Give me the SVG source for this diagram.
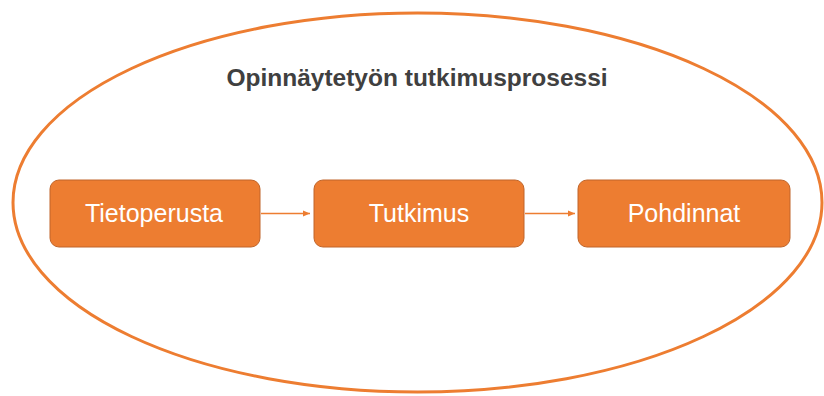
<svg xmlns="http://www.w3.org/2000/svg" width="824" height="396" viewBox="0 0 824 396">
<style>
.node rect{fill:#ED7D31;stroke:#C0652A;stroke-width:1}
.node text{fill:#FFFFFF;font-family:"Liberation Sans",Arial,sans-serif;font-size:25px;text-anchor:middle}
.conn line{stroke:#ED7D31;stroke-width:1.5;marker-end:url(#ah)}
</style>
<defs>
<marker id="ah" markerWidth="8" markerHeight="8" refX="7" refY="4" orient="auto" markerUnits="userSpaceOnUse">
<path d="M0,1 L7,4 L0,7 Z" fill="#ED7D31"/>
</marker>
</defs>
<rect width="824" height="396" fill="#FFFFFF"/>
<ellipse cx="417.5" cy="202.5" rx="404.5" ry="189.5" fill="none" stroke="#ED7D31" stroke-width="3"/>
<text x="417" y="86" font-family="'Liberation Sans',Arial,sans-serif" font-size="24.5" font-weight="bold" fill="#404040" text-anchor="middle">Opinnäytetyön tutkimusprosessi</text>
<g id="connectors" class="conn">
<line x1="261" y1="213.5" x2="310" y2="213.5"/>
<line x1="525" y1="213.5" x2="575" y2="213.5"/>
</g>
<g id="tietoperusta" class="node">
<rect x="50" y="180" width="210" height="67" rx="9"/>
<text x="154" y="222">Tietoperusta</text>
</g>
<g id="tutkimus" class="node">
<rect x="314" y="180" width="210" height="67" rx="9"/>
<text x="419" y="222">Tutkimus</text>
</g>
<g id="pohdinnat" class="node">
<rect x="578" y="180" width="212" height="67" rx="9"/>
<text x="684" y="222">Pohdinnat</text>
</g>
</svg>
